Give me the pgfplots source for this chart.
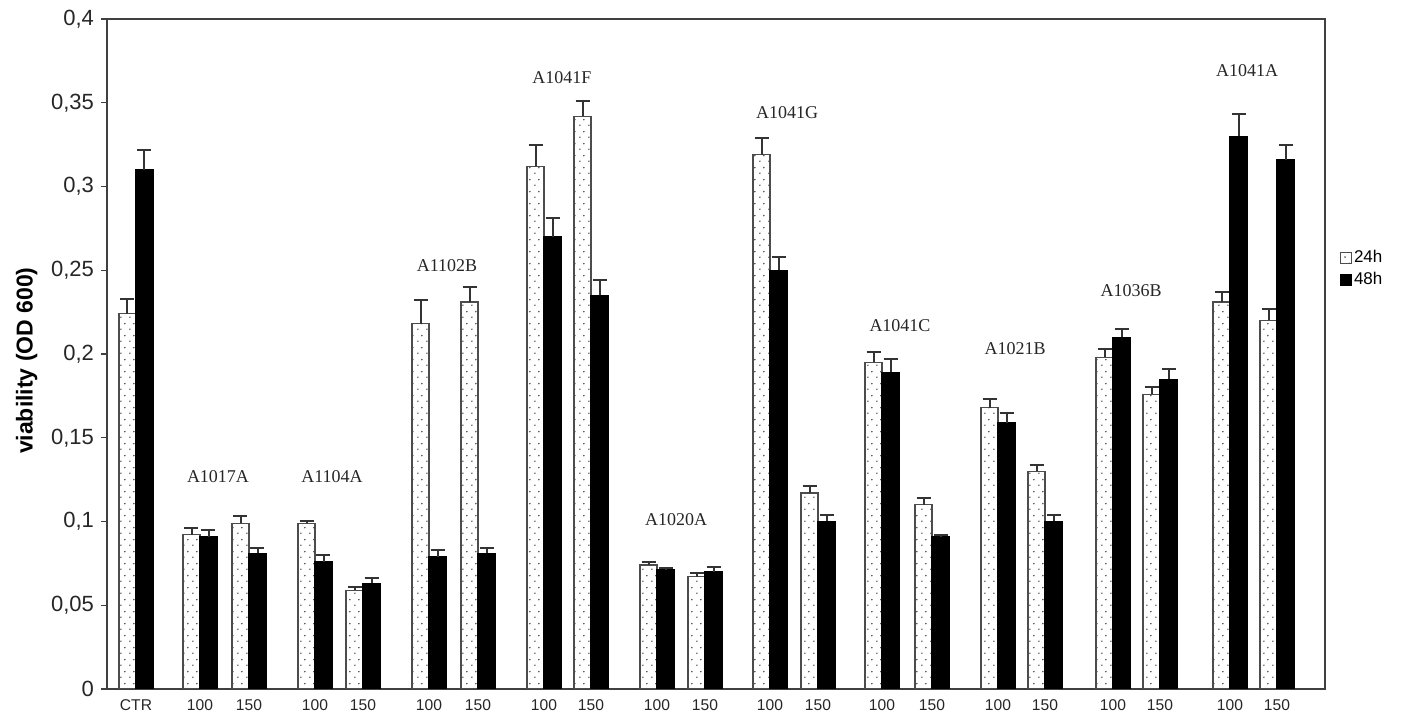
\documentclass[border=0pt]{standalone}
\usepackage{fontspec}
\setmainfont{Liberation Sans}
\newfontfamily\serifgrp{Liberation Serif}
\usepackage{pgfplots}
\pgfplotsset{compat=1.18}
\usepackage{pgfplotstable}
\usetikzlibrary{patterns.meta}

\tikzdeclarepattern{
  name=sparsedots,
  type=uncolored,
  bottom left={(0pt,0pt)},
  top right={(4.25pt,6pt)},
  tile size={(4.25pt,6pt)},
  code={\pgfpathcircle{\pgfqpoint{1pt}{1.5pt}}{0.45pt}\pgfusepath{fill}
        \pgfpathcircle{\pgfqpoint{3.1pt}{4.5pt}}{0.45pt}\pgfusepath{fill}}
}

\pgfplotstableread{
x    a     ae     b     be
136  0.224 0.009  0.310 0.012
200  0.092 0.004  0.091 0.004
249  0.099 0.004  0.081 0.003
315  0.099 0.001  0.076 0.004
363  0.059 0.002  0.063 0.003
429  0.218 0.014  0.079 0.004
478  0.231 0.009  0.081 0.003
544  0.312 0.013  0.270 0.011
591  0.342 0.009  0.235 0.009
657  0.074 0.002  0.071 0.001
705  0.067 0.002  0.070 0.003
770  0.319 0.010  0.250 0.008
818  0.117 0.004  0.100 0.004
882  0.195 0.006  0.189 0.008
932  0.110 0.004  0.091 0.001
998  0.168 0.005  0.159 0.006
1045 0.130 0.004  0.100 0.004
1113 0.198 0.005  0.210 0.005
1160 0.176 0.004  0.185 0.006
1230 0.231 0.006  0.330 0.013
1277 0.220 0.007  0.316 0.009
}\data

\begin{document}
\begin{tikzpicture}
\useasboundingbox (-53.5pt,-13.5pt) rectangle (651pt,344.5pt);
\begin{axis}[
  at={(0,0)}, anchor=south west,
  scale only axis, width=609pt, height=335pt,
  xmin=107, xmax=1325, ymin=0, ymax=0.4,
  axis line style={black!75, line width=0.7pt},
  bar width=17,
  xtick={136,200,249,315,363,429,478,544,591,657,705,770,818,882,932,998,1045,1113,1160,1230,1277},
  xticklabels={CTR,100,150,100,150,100,150,100,150,100,150,100,150,100,150,100,150,100,150,100,150},
  xtick style={draw=none},
  xticklabel style={font=\fontsize{7.8}{8}\selectfont, text=black!85, yshift=1pt},
  ytick={0,0.05,0.1,0.15,0.2,0.25,0.3,0.35,0.4},
  ytick pos=left, tick align=outside, major tick length=3pt,
  ytick style={black!75, line width=0.6pt},
  yticklabel style={font=\fontsize{11}{11}\selectfont, text=black!85},
  /pgf/number format/use comma,
  /pgf/number format/fixed,
  /pgf/number format/assume math mode=true,
  ylabel={\bfseries viability (OD 600)},
  every axis y label/.style={at={(axis description cs:-0.066,0.49)}, rotate=90, anchor=center, font=\fontsize{11.5}{12}\selectfont},
  legend style={at={(axis description cs:1.012,0.658)}, anchor=north west, draw=none, fill=none,
    font=\fontsize{8.5}{9}\selectfont, inner sep=0pt, row sep=1pt, nodes={inner sep=1pt}},
  legend cell align=left,
  legend image code/.code={\draw[#1] (0pt,-2.7pt) rectangle (5.4pt,2.7pt);},
  error bars/y dir=plus,
  error bars/y explicit,
  error bars/error bar style={line width=1pt, black!80},
  error bars/error mark options={rotate=90, mark size=3.5pt, line width=1pt, black!80},
]
\addplot[ybar, bar shift=0pt, draw=black!70, line width=0.6pt, fill=white, pattern=sparsedots, pattern color=black!70]
  table[x expr=\thisrow{x}-8.5, y=a, y error=ae] {\data};
\addlegendentry{24h}
\addplot[ybar, bar shift=0pt, draw=black, line width=0.6pt, fill=black]
  table[x expr=\thisrow{x}+8.5, y=b, y error=be] {\data};
\addlegendentry{48h}

\begin{scope}[every node/.style={font=\serifgrp\fontsize{9}{9}\selectfont, text=black!85}]
\node at (218,0.127) {A1017A};
\node at (332,0.127) {A1104A};
\node at (447,0.253) {A1102B};
\node at (562,0.365) {A1041F};
\node at (676,0.101) {A1020A};
\node at (787,0.344) {A1041G};
\node at (900,0.217) {A1041C};
\node at (1015,0.203) {A1021B};
\node at (1131,0.238) {A1036B};
\node at (1247,0.369) {A1041A};
\end{scope}
\end{axis}
\end{tikzpicture}
\end{document}
